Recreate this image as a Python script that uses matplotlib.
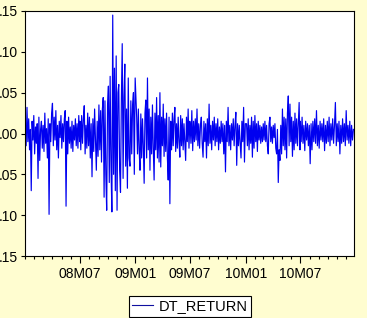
import pandas as pd
import matplotlib
matplotlib.use("Agg")
import matplotlib.pyplot as plt
import matplotlib.dates as mdates
from matplotlib.lines import Line2D

# daily returns
r08h1 = [0.010, -0.015, 0.032, -0.010, 0.018, -0.020, 0.005, -0.070, 0.015, -0.008,
         0.022, -0.025, 0.008, -0.012, 0.012, -0.055, 0.020, -0.033, 0.005, 0.015,
         -0.018, 0.010, -0.022, 0.025, -0.012, 0.006, -0.030, 0.018, -0.099, 0.012,
         -0.010, 0.025, 0.037, -0.015, 0.020, -0.008, 0.028, -0.020, 0.010, -0.030,
         0.015, -0.005, 0.022, -0.018, 0.012, -0.010, 0.018, 0.028, -0.089, 0.015,
         -0.025, 0.020, -0.012, 0.008, -0.018, 0.015, -0.022, 0.010, -0.008, 0.018,
         -0.015, 0.012, -0.018, 0.022, -0.010]
r08h2 = [0.015, -0.020, 0.022, -0.012, 0.018, 0.034, -0.025, 0.010, -0.018, 0.025,
         -0.015, 0.020, -0.030, 0.012, -0.053, 0.018, -0.022, 0.030, -0.010, -0.045,
         0.015, -0.028, 0.035, -0.020, 0.028, -0.035, 0.030, 0.044, -0.078, 0.040,
         -0.050, -0.094, 0.035, 0.058, -0.060, 0.070, -0.040, -0.096, 0.145, -0.050,
         0.080, -0.070, 0.095, -0.094, 0.050, 0.060, -0.045, -0.072, 0.040, 0.110,
         -0.055, 0.045, 0.085, -0.040, 0.030, -0.067, 0.068, -0.030, -0.040, 0.040,
         -0.025, 0.035, 0.050, -0.050, 0.068]
r09h1 = [0.020, -0.025, 0.030, -0.020, -0.045, 0.024, -0.030, 0.018, -0.015, -0.061,
         0.025, 0.041, -0.030, 0.068, -0.020, 0.030, -0.045, 0.020, -0.025, 0.035,
         -0.018, -0.057, 0.025, -0.020, 0.044, -0.030, 0.022, -0.035, 0.050, -0.041,
         0.020, -0.015, 0.036, -0.028, 0.018, -0.022, 0.025, -0.030, -0.057, 0.020,
         -0.086, 0.015, -0.020, 0.025, -0.015, 0.018, 0.032, -0.022, 0.012, -0.018,
         0.020, -0.010, -0.029, 0.022, -0.015, 0.018, -0.020, 0.012, -0.012, -0.033,
         0.020, -0.010, 0.030, -0.018, 0.015]
r09h2 = [0.010, -0.012, 0.028, -0.021, 0.015, -0.010, 0.018, -0.008, 0.030, -0.015,
         0.012, -0.018, 0.010, 0.020, -0.012, -0.029, 0.015, -0.010, 0.012, -0.030,
         0.018, -0.015, 0.036, -0.012, 0.010, -0.020, 0.015, -0.008, 0.020, -0.015,
         0.012, -0.010, 0.018, -0.020, 0.008, -0.012, 0.015, -0.010, 0.012, -0.025,
         0.010, -0.047, 0.015, -0.010, 0.032, -0.015, 0.010, -0.020, 0.012, -0.008,
         0.018, -0.015, 0.010, 0.026, -0.039, 0.012, -0.015, 0.010, -0.012, -0.030,
         0.015, -0.010, 0.032, -0.035, 0.012]
r10h1 = [0.012, -0.015, 0.018, -0.020, 0.010, -0.012, 0.020, -0.029, 0.015, -0.018,
         0.022, -0.010, 0.012, -0.022, 0.015, -0.008, 0.010, -0.012, 0.008, -0.010,
         0.012, -0.008, 0.015, -0.010, 0.010, -0.015, -0.025, 0.012, 0.020, -0.010,
         0.008, -0.012, 0.010, -0.005, 0.012, -0.018, -0.025, 0.005, -0.060, -0.020,
         -0.033, 0.010, -0.025, 0.030, -0.015, 0.020, -0.020, 0.018, -0.030, 0.025,
         0.046, -0.015, 0.036, -0.010, 0.020, -0.028, 0.015, -0.020, 0.025, -0.012,
         0.018, -0.015, 0.010, 0.038, -0.020]
r10h2 = [0.015, -0.010, 0.020, -0.012, 0.010, -0.021, 0.015, -0.008, 0.012, -0.015,
         0.010, -0.037, 0.012, -0.020, 0.015, -0.010, 0.018, -0.012, 0.028, -0.015,
         0.010, -0.018, 0.015, -0.008, 0.012, -0.010, 0.018, -0.021, 0.010, -0.012,
         0.015, -0.010, 0.020, -0.015, 0.012, -0.008, 0.018, -0.012, 0.010, 0.038,
         -0.015, 0.012, -0.010, 0.015, -0.025, 0.010, -0.012, 0.018, -0.010, 0.012,
         -0.015, 0.028, -0.008, 0.010, -0.012, 0.015, -0.015, 0.010, -0.008, 0.005]

halves = [("2008-01-02", "2008-06-30", r08h1),
          ("2008-07-01", "2008-12-31", r08h2),
          ("2009-01-05", "2009-06-30", r09h1),
          ("2009-07-01", "2009-12-31", r09h2),
          ("2010-01-04", "2010-06-30", r10h1),
          ("2010-07-01", "2010-12-24", r10h2)]

tick_dates = ["2008-07-01", "2009-01-01", "2009-07-01", "2010-01-01", "2010-07-01"]
tick_labels = ["08M07", "09M01", "09M07", "10M01", "10M07"]
y_ticks = [-0.15, -0.10, -0.05, 0.00, 0.05, 0.10, 0.15]
# the minus signs sit off the left edge in the original, so only the rest shows
y_labels = [".15", ".10", ".05", ".00", ".05", ".10", ".15"]

parts = []
for start, end, vals in halves:
    idx = pd.date_range(start, end, periods=len(vals))
    parts.append(pd.Series(vals, index=idx))
dt_return = pd.concat(parts)

plt.rcParams["font.family"] = ["Liberation Sans", "DejaVu Sans"]
bg = "#FFFDD0"

fig = plt.figure(figsize=(3.67, 3.18), dpi=100, facecolor=bg)
ax = fig.add_axes([25 / 367, 1 - 256 / 318, 329 / 367, 245 / 318])
ax.set_facecolor("white")

ax.plot(dt_return.index, dt_return.values, color="#0000f0", lw=0.85)

ax.set_ylim(-0.15, 0.15)
ax.set_xlim(pd.Timestamp("2008-01-01"), pd.Timestamp("2010-12-26"))
ax.set_yticks(y_ticks)
ax.set_yticklabels(y_labels, fontsize=10)
ax.set_xticks(pd.to_datetime(tick_dates))
ax.set_xticklabels(tick_labels, fontsize=10)
ax.xaxis.set_minor_locator(mdates.MonthLocator())

ax.tick_params(axis="x", which="major", direction="out", length=5, width=0.8, pad=3)
ax.tick_params(axis="x", which="minor", direction="out", length=2.5, width=0.8)
ax.tick_params(axis="y", direction="out", length=3, width=0.8, pad=2)
for s in ax.spines.values():
    s.set_linewidth(0.8)
    s.set_color("black")

handle = Line2D([], [], color="#1010a0", lw=0.8)
leg = fig.legend([handle], ["DT_RETURN"], loc="center",
                 bbox_to_anchor=(190 / 367, 1 - 306.5 / 318),
                 fontsize=10.5, frameon=True, fancybox=False,
                 handlelength=1.4, handletextpad=0.4, borderpad=0.25,
                 borderaxespad=0)
leg.get_frame().set_edgecolor("black")
leg.get_frame().set_linewidth(0.8)
leg.get_frame().set_facecolor("white")
leg.get_frame().set_alpha(1)

fig.savefig("out.png", dpi=100, facecolor=bg)
